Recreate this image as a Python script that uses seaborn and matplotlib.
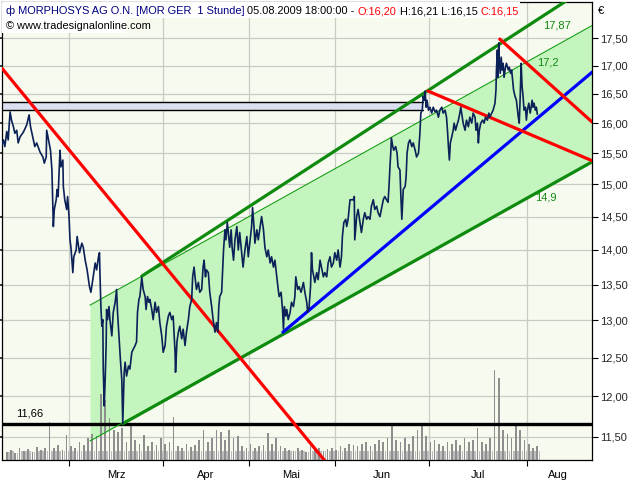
import numpy as np
import pandas as pd
import matplotlib
matplotlib.use("Agg")
import matplotlib.pyplot as plt
import matplotlib.patches as mpatches
from matplotlib.text import Annotation
import seaborn as sns
from matplotlib.ticker import FixedLocator, NullLocator, FixedFormatter, NullFormatter

sns.set_theme(style="white")
plt.rcParams['font.family'] = ['Liberation Sans', 'DejaVu Sans']

# ---------------- data ----------------
bar_idx = [0, 3, 6, 10, 13, 17, 20, 24, 27, 31, 34, 38, 45, 52, 57, 60, 66, 69, 73, 80, 86, 89, 93, 94, 99, 102, 105, 107, 108, 110, 114, 116, 118, 122, 124, 128, 129, 132, 136, 138, 141, 143, 145, 149, 151, 156, 158, 163, 168, 171, 175, 179, 184, 187, 191, 196, 199, 203, 205, 206, 208, 210, 212, 213, 215, 217, 219, 220, 222, 225, 227, 231, 234, 238, 241, 243, 246, 249, 252, 254, 257, 259, 262, 266, 269, 273, 276, 280, 283, 285, 288, 290, 294, 297, 301, 303, 306, 309, 311, 315, 318, 322, 325, 329, 332, 336, 339, 343, 346, 350, 353, 357, 360, 364, 365, 368, 371, 374, 378, 381, 385, 388, 392, 395, 399, 401, 404, 406, 409, 413, 416, 420, 423, 425, 428, 430, 434, 437, 441, 444, 448, 451, 454, 456, 458, 462, 464, 466, 469, 471, 474, 476, 479, 482, 484, 487, 490, 494, 497, 500, 504, 507, 511, 515, 518, 522, 525, 527, 530, 532, 536, 539, 543, 546, 550, 553, 557, 560, 564, 567, 571, 574, 578, 581, 583, 587, 590, 592, 594, 597, 599, 602, 606, 609, 613, 616, 618, 622, 625, 629, 634, 637, 641, 643, 646, 649, 651, 653, 656, 658, 662, 665, 669, 672, 676, 679, 683, 686, 690, 693, 697, 700, 704, 707, 711, 714, 716, 719, 723, 725, 728, 732, 735, 739, 741, 742, 746, 749, 753, 756, 760, 763, 767, 770, 774, 777, 781, 784, 788, 791, 795, 798, 802, 805, 809, 812, 814, 816, 818, 819, 822, 824, 828, 831, 833, 837, 839, 841, 844, 848, 850, 852, 855, 858, 862, 865, 869, 872, 876, 879, 881, 884, 886, 888, 890, 892, 894, 897, 900, 904, 907, 911, 914, 918, 921, 925, 928, 932, 935, 937, 939, 941, 943, 946, 949, 951, 954, 956, 960, 963, 965, 968, 970, 974, 977, 981, 984, 988, 991, 995, 997, 1000, 1002, 1004, 1007, 1011, 1014, 1017, 1021, 1024, 1026, 1030, 1033, 1037, 1039, 1040, 1042, 1043, 1045, 1046, 1048, 1050, 1052, 1054, 1056, 1059, 1061, 1065, 1067, 1070, 1072, 1074, 1076, 1079, 1082, 1086, 1088, 1090, 1092, 1094, 1096, 1098, 1101, 1103, 1105, 1108, 1111, 1113, 1115, 1117, 1119, 1122, 1124, 1126]
close = [15.64, 15.72, 15.61, 15.86, 15.72, 16.19, 16.05, 15.94, 15.83, 15.88, 15.67, 15.77, 15.85, 15.97, 16.14, 15.94, 15.72, 15.61, 15.67, 15.52, 15.44, 15.34, 15.44, 15.88, 15.67, 15.55, 15.23, 14.66, 14.35, 14.61, 14.76, 14.92, 14.81, 15.55, 15.28, 15.39, 14.97, 14.76, 14.61, 14.81, 14.50, 14.15, 14.04, 13.67, 13.90, 14.00, 14.20, 13.96, 14.10, 14.04, 13.85, 13.71, 13.47, 13.39, 13.57, 13.81, 13.71, 13.90, 13.96, 13.67, 13.19, 12.92, 13.01, 12.35, 11.88, 12.21, 12.66, 13.15, 13.01, 13.19, 13.01, 12.79, 13.11, 13.25, 13.43, 13.11, 12.79, 12.48, 12.21, 11.66, 12.31, 12.44, 12.26, 12.39, 12.35, 12.57, 12.61, 12.66, 12.71, 13.11, 13.29, 13.33, 13.60, 13.43, 13.33, 13.15, 13.33, 13.25, 13.29, 13.15, 13.01, 13.25, 13.11, 13.19, 12.97, 12.79, 12.57, 12.66, 12.92, 13.06, 13.11, 13.01, 13.06, 12.57, 12.31, 12.71, 12.84, 12.92, 12.75, 12.88, 12.66, 12.84, 13.01, 13.19, 13.29, 13.61, 13.75, 13.61, 13.43, 13.53, 13.39, 13.43, 13.75, 13.85, 13.61, 13.71, 13.67, 13.39, 13.19, 13.01, 12.84, 12.97, 12.84, 13.19, 13.33, 13.39, 13.71, 14.00, 14.30, 14.15, 14.41, 14.26, 14.04, 14.30, 14.04, 13.85, 14.15, 14.35, 14.00, 14.26, 13.96, 13.75, 14.00, 14.20, 13.90, 14.15, 14.35, 14.64, 14.35, 14.10, 14.30, 14.15, 14.35, 14.50, 14.30, 14.04, 13.90, 14.00, 13.81, 13.90, 13.75, 13.85, 13.61, 13.43, 13.33, 13.39, 13.15, 12.88, 13.19, 13.06, 13.15, 13.01, 13.11, 13.25, 13.19, 13.33, 13.61, 13.43, 13.47, 13.39, 13.53, 13.39, 13.25, 13.11, 13.19, 13.47, 13.96, 13.71, 13.61, 13.53, 13.67, 13.57, 13.85, 13.75, 13.61, 13.67, 13.61, 13.81, 13.90, 13.75, 13.81, 13.96, 13.85, 14.00, 13.75, 13.90, 14.20, 14.41, 14.46, 14.35, 14.46, 14.76, 14.76, 14.76, 14.81, 14.15, 14.50, 14.61, 14.41, 14.26, 14.46, 14.56, 14.46, 14.50, 14.46, 14.66, 14.76, 14.61, 14.66, 14.56, 14.50, 14.61, 14.76, 14.81, 14.76, 14.72, 14.97, 15.28, 15.55, 15.75, 15.61, 15.55, 15.61, 15.50, 15.28, 15.23, 14.81, 14.46, 14.92, 14.97, 15.12, 15.50, 15.67, 15.72, 15.61, 15.67, 15.55, 15.44, 15.50, 15.83, 16.17, 16.22, 16.46, 16.39, 16.55, 16.27, 16.39, 16.22, 16.27, 16.17, 16.27, 16.19, 16.22, 16.10, 16.22, 16.27, 16.17, 16.22, 16.10, 15.88, 15.61, 15.39, 15.67, 15.77, 15.88, 16.00, 15.88, 15.94, 16.05, 16.17, 16.27, 16.10, 16.00, 15.88, 16.05, 15.94, 16.10, 16.00, 16.17, 16.10, 15.88, 16.00, 15.67, 15.88, 16.00, 16.05, 16.00, 16.10, 16.05, 16.17, 16.10, 16.17, 16.22, 16.34, 16.57, 16.92, 17.28, 16.79, 17.41, 17.10, 16.86, 17.15, 16.92, 17.04, 16.79, 16.97, 17.04, 16.92, 16.97, 16.86, 16.92, 16.74, 16.57, 16.46, 16.39, 16.10, 16.00, 16.46, 17.04, 16.62, 16.46, 16.22, 16.27, 16.05, 16.22, 16.34, 16.17, 16.27, 16.39, 16.27, 16.34, 16.22, 16.27, 16.15]

# daily volume (one value per trading day)
volume_day = [8, 10, 7, 12, 9, 11, 8, 13, 10, 12, 38, 12, 15, 10, 25, 14, 12, 18, 15, 22,
              26, 24, 66, 60, 42, 30, 28, 32, 18, 37, 20, 16, 25, 14, 18, 15, 22, 16, 18, 43,
              14, 12, 16, 13, 15, 20, 30, 18, 22, 30, 28, 20, 30, 22, 24, 14, 12, 16, 12, 14,
              15, 27, 16, 22, 14, 12, 10, 9, 12, 10, 8, 14, 10, 12, 9, 11, 12, 10, 14, 12,
              16, 15, 14, 16, 18, 14, 16, 20, 18, 22, 34, 20, 18, 22, 16, 24, 30, 37, 24, 18,
              20, 16, 14, 18, 16, 20, 15, 22, 18, 20, 32, 18, 16, 22, 90, 82, 30, 26, 22, 35,
              30, 20, 16, 12, 14]
bars_per_day = 9

month_labels = ["Mrz", "Apr", "Mai", "Jun", "Jul", "Aug"]
month_start_bar = [141, 339, 519, 700, 898, 1104]
month_label_bar = [240, 429, 609, 799, 1001, 1170]
price_ticks = [11.5, 12.0, 12.5, 13.0, 13.5, 14.0, 14.5, 15.0, 15.5, 16.0, 16.5, 17.0, 17.5]

support_level = 11.66
band_low, band_high, band_end_bar = 16.22, 16.36, 885

red_long = ([0, 690], [16.95, 11.14])
red_june = ([896, 1241], [16.55, 15.38])
red_july = ([1047, 1241], [17.48, 16.02])
blue_up = ([591, 1241], [12.84, 16.88])
green_top_thick = ([294, 1241], [13.62, 18.52])
channel_x = [185, 1241]
channel_top = [13.21, 17.73]
channel_bottom = [11.45, 15.36]
green_bottom_thick = ([254, 1241], [11.66, 15.36])

x_range = (0, 1241)
y_range = (11.223, 18.176)

# ---------------- figure ----------------
BG = "#F7FAEE"
GRID = "#C9CBC6"
fig = plt.figure(figsize=(6.4, 4.8), dpi=100)
fig.patch.set_facecolor("white")
ax = fig.add_axes([2/640, 20/480, 590/640, 458/480])
ax.set_facecolor(BG)
ax.set_yscale("log")
ax.set_xlim(*x_range)
ax.set_ylim(*y_range)
ax.yaxis.set_major_locator(FixedLocator(price_ticks))
ax.yaxis.set_minor_locator(NullLocator())
ax.yaxis.set_major_formatter(NullFormatter())
ax.yaxis.set_minor_formatter(NullFormatter())
ax.tick_params(axis="y", left=False, right=False, labelleft=False)
ax.xaxis.set_major_locator(FixedLocator(month_start_bar))
ax.xaxis.set_major_formatter(NullFormatter())
ax.xaxis.set_minor_locator(FixedLocator(month_label_bar))
ax.xaxis.set_minor_formatter(FixedFormatter(month_labels))
ax.tick_params(axis="x", which="major", bottom=True, length=4, width=0.8, color="black", direction="out")
ax.tick_params(axis="x", which="minor", bottom=False, length=0, labelsize=8, labelcolor="black", pad=7)
ax.grid(True, which="major", color=GRID, lw=0.9)
ax.set_axisbelow(True)
for s in ax.spines.values():
    s.set_visible(False)

# channel fill and band
ax.fill_between(channel_x, channel_bottom, channel_top, color="#C5F5BF", lw=0, zorder=1)
ax.fill_between([0, band_end_bar], [band_low]*2, [band_high]*2, color="#DCDFF0", lw=0, zorder=1.2)
ax.plot([0, band_end_bar], [band_low]*2, color="black", lw=1.0, zorder=1.3)
ax.plot([0, band_end_bar], [band_high]*2, color="black", lw=1.0, zorder=1.3)

# volume layer
axv = ax.twinx()
axv.set_ylim(0, 458)
axv.set_axis_off()
vol_x = np.arange(len(volume_day)) * bars_per_day + 10
vdf = pd.DataFrame({"bar": vol_x, "vol": volume_day})
axv.bar(vdf["bar"], vdf["vol"], width=3.5, color="#8E8E8E", lw=0)
axv.bar(vdf["bar"] + 4.5, np.minimum(vdf["vol"], 9), width=3.5, color="#BDBDBD", lw=0)

# top layer: price + trend lines
axt = ax.twinx()
axt.set_yscale("log")
axt.set_xlim(*x_range)
axt.set_ylim(*y_range)
axt.patch.set_visible(False)

axt.axhline(support_level, color="black", lw=2.4, zorder=2)
axt.plot(channel_x, channel_top, color="#11A011", lw=0.8, zorder=3)
axt.plot(channel_x, channel_bottom, color="#11A011", lw=0.8, zorder=3)
axt.plot(*green_top_thick, color="#0E8A0E", lw=2.3, zorder=3)
axt.plot(*green_bottom_thick, color="#0E8A0E", lw=2.3, zorder=3)
axt.plot(*blue_up, color="#0000FF", lw=2.3, zorder=3)
axt.plot(*red_long, color="#FF0000", lw=2.3, zorder=3)
axt.plot(*red_june, color="#FF0000", lw=2.3, zorder=3)
axt.plot(*red_july, color="#FF0000", lw=2.3, zorder=3)

price_df = pd.DataFrame({"bar": bar_idx, "close": close})
sns.lineplot(data=price_df, x="bar", y="close", ax=axt, color="#0B2158", lw=1.2, zorder=4, sort=False)
axt.set_xlabel("")
axt.set_ylabel("")

axt.yaxis.set_major_locator(FixedLocator(price_ticks))
axt.yaxis.set_minor_locator(NullLocator())
axt.yaxis.set_major_formatter(FixedFormatter([f"{v:.2f}".replace(".", ",") for v in price_ticks]))
axt.yaxis.set_minor_formatter(NullFormatter())
axt.tick_params(axis="y", which="major", right=True, left=False, labelright=True,
                length=4, width=0.8, color="black", labelsize=8, pad=1.5, direction="out")
for name, s in axt.spines.items():
    s.set_color("black")
    s.set_linewidth(0.9)

axt.text(30, 11.78, "11,66", fontsize=8, color="black", ha="left", va="center")
axt.text(1167, 17.74, "17,87", fontsize=8, color="#118811", ha="center", va="center")
axt.text(1148, 17.06, "17,2", fontsize=8, color="#118811", ha="center", va="center")
axt.text(1144, 14.79, "14,9", fontsize=8, color="#118811", ha="center", va="center")

# header
fig.patches.append(mpatches.Rectangle((2/640, 1-18/480), 518/640, 16/480, transform=fig.transFigure,
                                      facecolor="white", edgecolor="none", zorder=2))
fig.patches.append(mpatches.Rectangle((2/640, 1-33/480), 124/640, 15/480, transform=fig.transFigure,
                                      facecolor="white", edgecolor="none", zorder=2))
pieces = [("ф MORPHOSYS AG O.N. [MOR GER  1 Stunde]", "#000080"),
          (" 05.08.2009 18:00:00 - ", "black"),
          ("O:16,20", "#FF0000"),
          (" H:16,21 L:16,15 ", "black"),
          ("C:16,15", "#FF0000")]
HFS = 7.9
prev = fig.text(6/640, 1-14/480, pieces[0][0], color=pieces[0][1], fontsize=HFS,
                ha="left", va="baseline", zorder=5)
for txt, col in pieces[1:]:
    a = Annotation(txt, xy=(1, 0), xycoords=prev, xytext=(0, 0), textcoords="offset points",
                   color=col, fontsize=HFS, ha="left", va="bottom", annotation_clip=False, zorder=6)
    fig.add_artist(a)
    prev = a
fig.text(6/640, 1-29/480, "© www.tradesignalonline.com", color="black", fontsize=HFS,
         ha="left", va="baseline", zorder=5)
fig.text(601/640, 1-11/480, "€", color="black", fontsize=8, ha="center", va="center", zorder=5)

fig.savefig("out.png", dpi=100, facecolor="white")
